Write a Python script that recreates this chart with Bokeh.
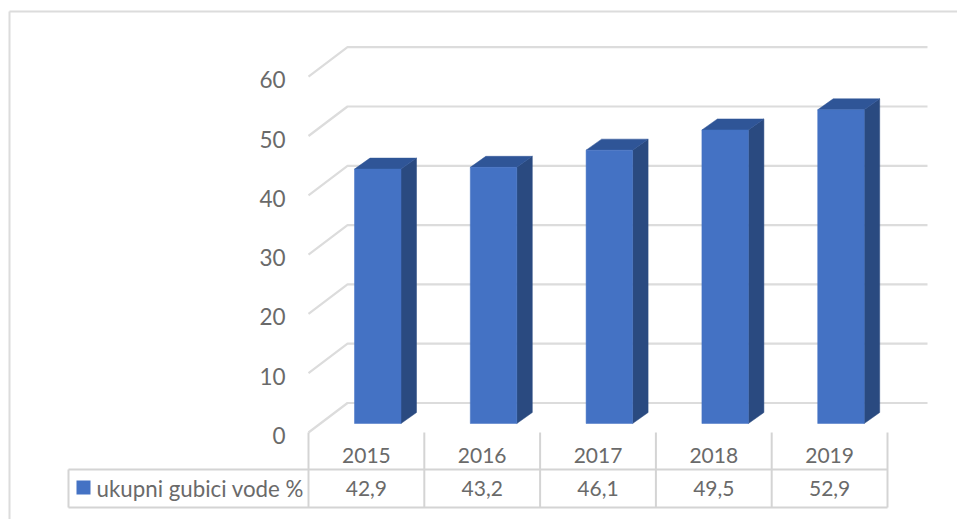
from bokeh.plotting import figure
from bokeh.models import Range1d, LinearAxis, FixedTicker
from bokeh.core.properties import value
from bokeh.embed import file_html
from bokeh.resources import INLINE

years = ["2015", "2016", "2017", "2018", "2019"]
losses = [42.9, 43.2, 46.1, 49.5, 52.9]
y_ticks = [0, 10, 20, 30, 40, 50, 60]
series_name = "ukupni gubici vode %"

FONT = "Lato"
TXT = "#6a6a6a"
GRID = "#dcdcdc"
FRONT, TOP, SIDE = "#4472c4", "#2f5597", "#2a4a80"

# plot scale: one category = 115.8 px, one value unit = 5.93 px; origin at image (308, 432)
W, H = 957, 519
SX, SY = 115.8, 5.93
ux = lambda px: px / SX          # pixel distance to category units
uy = lambda px: px / SY          # pixel distance to value units
X = lambda page_x: (page_x - 308) / SX
Y = lambda page_y: (432 - page_y) / SY

p = figure(width=W, height=H, output_backend="svg", toolbar_location=None,
           x_range=Range1d(X(0), X(W)), y_range=Range1d(Y(H), Y(0)),
           min_border=0, min_border_left=0, min_border_right=0, min_border_top=0, min_border_bottom=0,
           x_axis_type=None, y_axis_type=None, outline_line_color=None)
p.xgrid.visible = False
p.ygrid.visible = False

# chart area border
p.multi_line([[X(9), X(9)], [X(9), X(957)]], [[Y(519), Y(11)], [Y(11), Y(11)]],
             line_color=GRID, line_width=2)

# 3D gridlines
gdx, gdy = ux(39), uy(29.5)
n = len(years)
right = X(927)
p.multi_line([[0, gdx, right] for _ in y_ticks],
             [[t, t + gdy, t + gdy] for t in y_ticks],
             line_color=GRID, line_width=2.2)

# bars
bar_left, bar_w = ux(46), ux(46.5)
base = uy(9)
ddx, ddy = ux(15.5), uy(11)
for i, v in enumerate(losses):
    l = i + bar_left
    r = l + bar_w
    t = base + v
    p.patch([r, r + ddx, r + ddx, r], [base, base + ddy, t + ddy, t], fill_color=SIDE, line_color=SIDE, line_width=0.5)
    p.patch([l, r, r + ddx, l + ddx], [t, t, t + ddy, t + ddy], fill_color=TOP, line_color=TOP, line_width=0.5)
    p.patch([l, r, r, l], [base, base, t, t], fill_color=FRONT, line_color=FRONT, line_width=0.5)

# data table
row_mid, row_bot = Y(469), Y(507)
xs = [[i, i] for i in range(n + 1)] + [[X(68), X(68)], [X(68), n], [X(68), n]]
ys = [[0, row_bot] for _ in range(n + 1)] + [[row_mid, row_bot], [row_mid, row_mid], [row_bot, row_bot]]
p.multi_line(xs, ys, line_color="#d4d4d4", line_width=2)

p.text([i + 0.5 for i in range(n)], [Y(488)] * n, text=[f"{v:.1f}".replace(".", ",") for v in losses],
       text_font=value(FONT), text_font_size="21px", text_color=TXT,
       text_align="center", text_baseline="middle")
p.quad(left=[X(76)], right=[X(90)], top=[Y(480)], bottom=[Y(494)], fill_color=FRONT, line_color=None)
p.text([X(96)], [Y(488)], text=[series_name], text_font=value(FONT), text_font_size="22.3px",
       text_color=TXT, text_align="left", text_baseline="middle")

# axes placed inside the frame; labels sit 3 px lower than the front-plane gridline ends
lab_shift = uy(3)
yax = LinearAxis(ticker=FixedTicker(ticks=[t - lab_shift for t in y_ticks]), fixed_location=0)
yax.major_label_overrides = {t - lab_shift: str(t) for t in y_ticks}
yax.axis_line_color = None
yax.major_tick_line_color = None
yax.minor_tick_line_color = None
yax.major_label_standoff = 17
yax.major_label_text_font = FONT
yax.major_label_text_font_size = "22.5px"
yax.major_label_text_color = TXT
p.add_layout(yax, "left")

xax = LinearAxis(ticker=FixedTicker(ticks=[i + 0.5 for i in range(n)]), fixed_location=Y(441))
xax.major_label_overrides = {i + 0.5: y for i, y in enumerate(years)}
xax.axis_line_color = None
xax.major_tick_line_color = None
xax.minor_tick_line_color = None
xax.major_label_standoff = 0
xax.major_label_text_font = FONT
xax.major_label_text_font_size = "21px"
xax.major_label_text_color = TXT
p.add_layout(xax, "below")

open("out.html", "w").write(file_html(p, INLINE))
